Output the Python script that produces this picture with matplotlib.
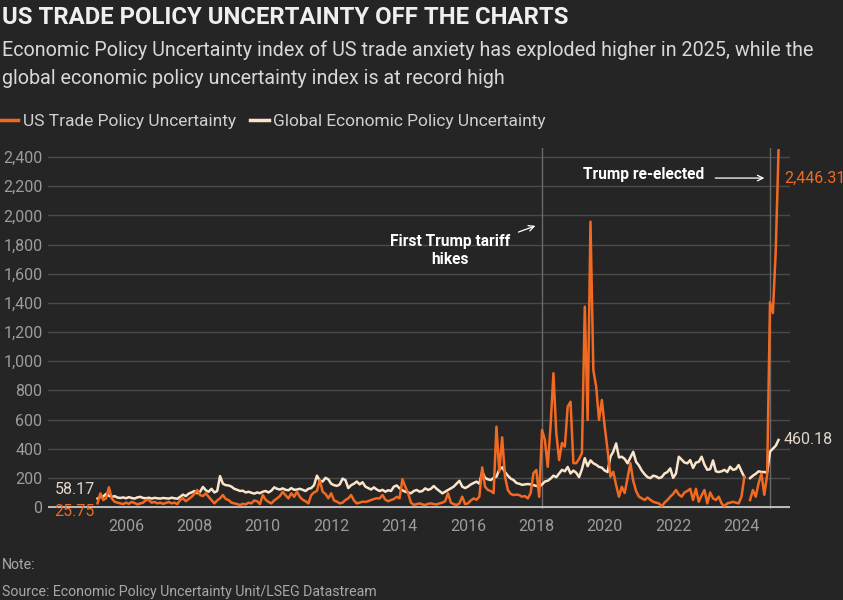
import numpy as np
import matplotlib.pyplot as plt
from matplotlib.ticker import FuncFormatter

plt.rcParams['font.family'] = ['Roboto', 'DejaVu Sans']

# monthly values, March 2005 .. February 2025 (one missing month in 2024)
us_tpu = [
    25.75, 94, 48, 60, 135, 59, 36, 30, 25, 20, 30, 22,
    35, 28, 18, 25, 30, 48, 48, 30, 35, 25, 30, 22,
    28, 35, 25, 30, 20, 48, 60, 40, 55, 70, 90, 117,
    82, 75, 94, 70, 48, 25, 45, 60, 82, 55, 48, 30,
    25, 20, 14, 22, 18, 30, 25, 45, 40, 20, 82, 50,
    35, 25, 45, 59, 75, 105, 80, 59, 94, 70, 105, 70,
    50, 40, 25, 82, 100, 110, 185, 105, 90, 60, 94, 45,
    37, 25, 30, 48, 60, 82, 45, 25, 30, 37, 35, 40,
    48, 55, 60, 59, 82, 50, 40, 48, 55, 70, 60, 190,
    140, 94, 30, 15, 20, 25, 18, 14, 22, 25, 20, 18,
    25, 30, 40, 94, 30, 20, 14, 25, 71, 20, 25, 45,
    59, 50, 71, 272, 139, 117, 110, 95, 551, 242, 478, 208,
    117, 90, 82, 85, 82, 71, 75, 59, 96, 233, 254, 70,
    528, 459, 276, 560, 918, 507, 322, 439, 414, 688, 722, 301,
    301, 330, 370, 1374, 597, 1957, 939, 825, 597, 734, 550, 391,
    208, 242, 150, 71, 139, 96, 200, 301, 180, 110, 71, 60,
    48, 65, 50, 36, 30, 25, 5, 30, 48, 71, 90, 117,
    85, 71, 100, 110, 125, 48, 125, 36, 80, 117, 25, 100,
    60, 48, 71, 25, 5, 25, 30, 36, 30, 25, 71, 208,
    np.nan, 48, 117, 71, 164, 230, 84, 220, 1405, 1330, 1750, 2446.31,
]

global_epu = [
    58.17, 70, 72, 90, 78, 70, 75, 65, 62, 66, 60, 68,
    62, 58, 66, 70, 62, 60, 64, 58, 63, 60, 58, 62,
    60, 58, 64, 60, 57, 70, 85, 75, 92, 100, 110, 95,
    105, 138, 115, 105, 125, 100, 110, 212, 160, 150, 148, 140,
    125, 118, 110, 112, 100, 105, 98, 92, 100, 95, 105, 110,
    100, 112, 135, 125, 120, 128, 118, 115, 130, 118, 120, 125,
    118, 110, 125, 130, 150, 215, 180, 175, 200, 190, 160, 150,
    145, 155, 195, 185, 130, 150, 160, 175, 155, 170, 140, 130,
    120, 135, 120, 110, 118, 105, 115, 110, 140, 148, 128, 115,
    105, 100, 94, 110, 117, 105, 110, 128, 117, 125, 144, 125,
    110, 94, 105, 117, 128, 140, 160, 180, 140, 130, 140, 155,
    165, 174, 160, 242, 200, 190, 185, 200, 208, 258, 272, 240,
    215, 195, 185, 165, 160, 152, 155, 158, 155, 150, 145, 140,
    155, 175, 180, 195, 215, 205, 230, 255, 245, 275, 230, 250,
    235, 205, 260, 335, 280, 320, 300, 290, 275, 270, 250, 240,
    345, 380, 436, 340, 345, 330, 300, 340, 379, 310, 285, 250,
    225, 205, 198, 215, 210, 198, 205, 230, 240, 265, 200, 230,
    345, 325, 305, 300, 322, 268, 305, 310, 345, 290, 255, 260,
    320, 245, 240, 245, 255, 240, 276, 255, 260, 288, 245, 205,
    np.nan, 198, 215, 228, 245, 240, 240, 237, 380, 400, 420, 460.18,
]

start_year, start_month = 2005, 3
year_ticks = list(range(2006, 2025, 2))
y_ticks = list(range(0, 2401, 200))
events = {"tariffs": 2018 + 2 / 12, "election": 2024 + 10 / 12}

bg = '#252525'
orange = '#f26a21'
cream = '#fbe4cc'

t = start_year + (start_month - 1 + np.arange(len(us_tpu))) / 12

fig = plt.figure(figsize=(8.43, 6), dpi=100, facecolor=bg)
ax = fig.add_axes([0.057, 0.1513, 0.880, 0.602])
ax.set_facecolor(bg)

ax.plot(t, global_epu, color=cream, lw=1.8, zorder=3, label="Global Economic Policy Uncertainty")
ax.plot(t, us_tpu, color=orange, lw=1.8, zorder=4, label="US Trade Policy Uncertainty")

ax.set_xlim(2003.72, 2025.415)
ax.set_ylim(-15, 2462)

# grid and baseline
ax.set_yticks(y_ticks)
ax.yaxis.set_major_formatter(FuncFormatter(lambda v, p: f"{int(v):,}"))
ax.yaxis.grid(True, color='#4a4a4a', lw=1)
ax.set_axisbelow(True)
ax.axhline(0, color='#c8c8c8', lw=1.3, zorder=2)
for s in ax.spines.values():
    s.set_visible(False)
ax.set_xticks(year_ticks)
ax.set_xticklabels([str(y) for y in year_ticks])
ax.tick_params(axis='both', length=0, labelsize=11.5, labelcolor='#9c9c9c')
ax.tick_params(axis='y', pad=4)
ax.tick_params(axis='x', pad=7)

# event lines
for x in events.values():
    ax.axvline(x, color='#6a6a6a', lw=1, zorder=1)

ax.text(2021.15, 2277, "Trump re-elected", color='white', fontsize=11.2,
        fontweight='bold', ha='center', va='center')
ax.annotate('', xy=(2024.75, 2256), xytext=(2023.15, 2256),
            arrowprops=dict(arrowstyle='->', color='white', lw=0.9))
ax.text(2015.47, 1756, "First Trump tariff\nhikes", color='white', fontsize=11.2,
        fontweight='bold', ha='center', va='center', linespacing=1.25)
ax.annotate('', xy=(2018.05, 1935), xytext=(2017.4, 1879),
            arrowprops=dict(arrowstyle='->', color='white', lw=0.9))

# end labels
ax.text(2025.24, 2256, "2,446.31", color=orange, fontsize=11.5, ha='left', va='center')
ax.text(2025.24, 460, "460.18", color='#e2d6ca', fontsize=11.5, ha='left', va='center')
ax.text(2005.09, 123, "58.17", color='#e2d6ca', fontsize=11.5, ha='right', va='center')
ax.text(2005.09, -34, "25.75", color=orange, fontsize=11.5, ha='right', va='center')

# header
fig.text(0.002, 1 - 18 / 600, "US TRADE POLICY UNCERTAINTY OFF THE CHARTS",
         color='#efefef', fontsize=17.2, fontweight='bold', va='center')
fig.text(0.002, 1 - 50 / 600,
         "Economic Policy Uncertainty index of US trade anxiety has exploded higher in 2025, while the",
         color='#d8d8d8', fontsize=14.2, va='center')
fig.text(0.002, 1 - 78 / 600, "global economic policy uncertainty index is at record high",
         color='#d8d8d8', fontsize=14.2, va='center')

handles, labels = ax.get_legend_handles_labels()
leg = fig.legend(handles[::-1], labels[::-1], loc='center left', bbox_to_anchor=(0.0, 1 - 121 / 600),
                 ncol=2, frameon=False, fontsize=12.5, handlelength=1.05, handletextpad=0.25,
                 columnspacing=0.85, borderaxespad=0, borderpad=0)
for txt in leg.get_texts():
    txt.set_color('#d0d0d0')
for ln in leg.get_lines():
    ln.set_linewidth(2.5)

fig.text(0.002, 1 - 565 / 600, "Note:", color='#a8a8a8', fontsize=10.2, va='center')
fig.text(0.002, 1 - 592 / 600, "Source: Economic Policy Uncertainty Unit/LSEG Datastream",
         color='#a8a8a8', fontsize=10.2, va='center')

fig.savefig('out.png', dpi=100, facecolor=bg)
